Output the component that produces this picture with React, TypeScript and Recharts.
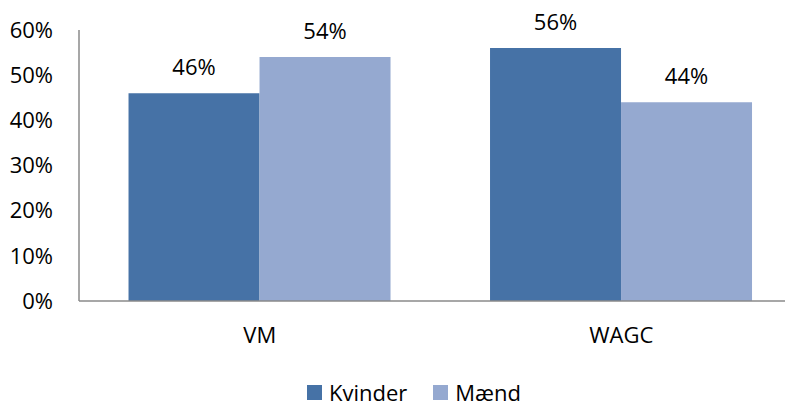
import React from 'react';
import { BarChart, Bar, XAxis, YAxis, LabelList, Legend } from 'recharts';

const categories = ['VM', 'WAGC'];
const kvinder = [0.46, 0.56];
const maend = [0.54, 0.44];
const yTicks = [0, 0.1, 0.2, 0.3, 0.4, 0.5, 0.6];

const seriesNames = ['Kvinder', 'Mænd'];
const colors = ['#4672A6', '#95A9D0'];

const data = categories.map((c, i) => ({ name: c, Kvinder: kvinder[i], Maend: maend[i] }));

const FONT = '"Open Sans", sans-serif';
const pct = (v: number) => `${Math.round(v * 100)}%`;

const LegendContent = () => (
  <div style={{ display: 'flex', justifyContent: 'center', paddingLeft: 18, fontFamily: FONT, fontSize: 22, color: '#000' }}>
    {seriesNames.map((n, i) => (
      <div key={n} style={{ display: 'flex', alignItems: 'center', marginRight: i === 0 ? 26 : 0 }}>
        <div style={{ width: 15, height: 15, background: colors[i], marginRight: 7 }} />
        <span>{n}</span>
      </div>
    ))}
  </div>
);

export default function App() {
  return (
    <div style={{ width: 785, height: 395, overflow: 'hidden', position: 'relative' }}>
      <BarChart
        width={810}
        height={395}
        data={data}
        margin={{ top: 22, right: 16, left: 0, bottom: 0 }}
        barCategoryGap="13.7%"
        barGap={0}
        style={{ overflow: 'visible' }}
      >
        <XAxis
          dataKey="name"
          axisLine={{ stroke: '#8a8a8a', strokeWidth: 1.5 }}
          tickLine={false}
          tick={{ fontFamily: FONT, fontSize: 22, fill: '#000' }}
          height={72}
          tickMargin={20}
        />
        <YAxis
          domain={[0, 0.6]}
          ticks={yTicks}
          tickFormatter={pct}
          width={71}
          axisLine={{ stroke: '#8a8a8a', strokeWidth: 1.5 }}
          tickLine={false}
          tickMargin={20}
          tick={{ fontFamily: FONT, fontSize: 22, fill: '#000' }}
          interval={0}
        />
        <Legend verticalAlign="bottom" content={<LegendContent />} wrapperStyle={{ bottom: -4 }} />
        <Bar dataKey="Kvinder" fill={colors[0]} isAnimationActive={false}>
          <LabelList dataKey="Kvinder" position="top" offset={18} formatter={pct} style={{ fontFamily: FONT, fontSize: 22, fill: '#000' }} />
        </Bar>
        <Bar dataKey="Maend" fill={colors[1]} isAnimationActive={false}>
          <LabelList dataKey="Maend" position="top" offset={18} formatter={pct} style={{ fontFamily: FONT, fontSize: 22, fill: '#000' }} />
        </Bar>
      </BarChart>
    </div>
  );
}
